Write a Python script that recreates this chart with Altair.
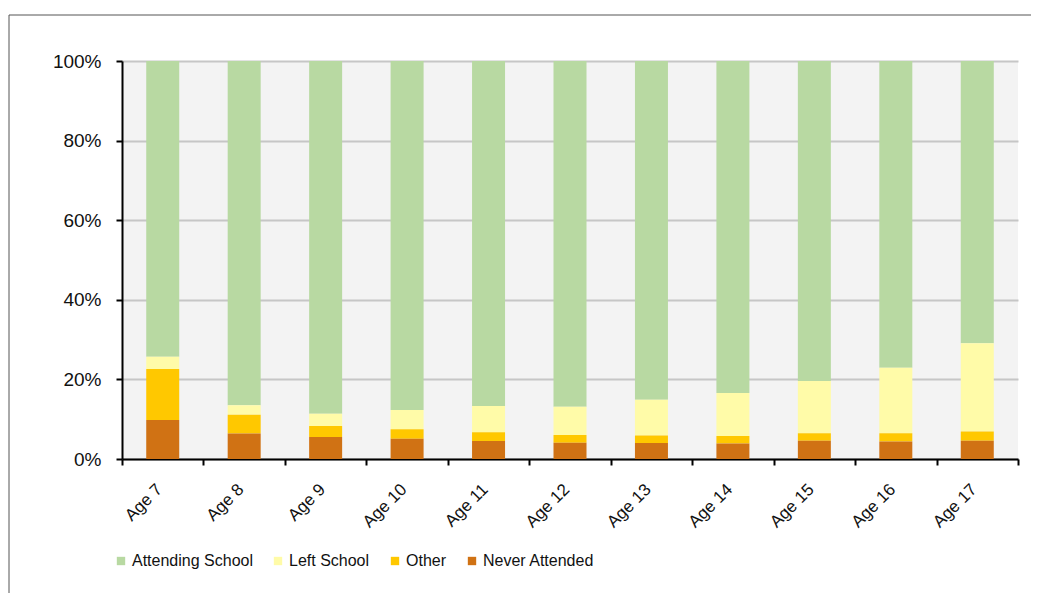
import altair as alt
import pandas as pd

ages = ["Age 7", "Age 8", "Age 9", "Age 10", "Age 11", "Age 12",
        "Age 13", "Age 14", "Age 15", "Age 16", "Age 17"]
never_attended = [9.8, 6.4, 5.5, 5.1, 4.5, 4.1, 4.0, 3.9, 4.6, 4.4, 4.6]
other = [12.8, 4.7, 2.8, 2.4, 2.2, 1.9, 1.9, 1.9, 1.9, 2.1, 2.3]
left_school = [3.1, 2.4, 3.1, 4.8, 6.6, 7.1, 9.0, 10.8, 13.1, 16.4, 22.2]
attending = [74.3, 86.5, 88.6, 87.7, 86.7, 86.9, 85.1, 83.4, 80.4, 77.1, 70.9]

series = ["Attending School", "Left School", "Other", "Never Attended"]
colors = ["#B8D9A2", "#FFFBA8", "#FFC800", "#D07214"]
stack_rank = {"Never Attended": 0, "Other": 1, "Left School": 2, "Attending School": 3}

rows = []
for name, vals in zip(series, [attending, left_school, other, never_attended]):
    for a, v in zip(ages, vals):
        rows.append({"age": a, "status": name, "value": v, "rank": stack_rank[name]})
df = pd.DataFrame(rows)

FONT = "Liberation Sans"

bars = alt.Chart(df).mark_bar(size=33).encode(
    x=alt.X("age:N", sort=ages, title=None,
            scale=alt.Scale(paddingInner=0, paddingOuter=0),
            axis=alt.Axis(labelAngle=-45, tickBand="extent", labelFont=FONT,
                          labelFontSize=17, labelColor="#111", labelPadding=25,
                          labelAlign="right", labelBaseline="alphabetic",
                          tickSize=6, tickColor="#000", tickWidth=2,
                          domainColor="#000", domainWidth=2, grid=False)),
    y=alt.Y("value:Q", stack="normalize", title=None,
            scale=alt.Scale(domain=[0, 1]),
            axis=alt.Axis(format=".0%", values=[0, 0.2, 0.4, 0.6, 0.8, 1.0],
                          labelFont=FONT, labelFontSize=19, labelColor="#111",
                          labelPadding=15, tickSize=6, tickColor="#000", tickWidth=2,
                          domainColor="#000", domainWidth=2,
                          grid=True, gridColor="#C6C6C6", gridWidth=2)),
    color=alt.Color("status:N", sort=series,
                    scale=alt.Scale(domain=series, range=colors),
                    legend=alt.Legend(title=None, orient="none", direction="horizontal",
                                      columns=4, legendX=-9, legendY=492,
                                      symbolType="square", symbolSize=70,
                                      symbolStrokeWidth=0, labelFont=FONT,
                                      labelFontSize=16, labelColor="#111",
                                      labelOffset=3, columnPadding=17)),
    order=alt.Order("rank:Q", sort="ascending"),
)

frame = alt.Chart(pd.DataFrame({"k": [0]})).mark_rect(
    fill="white", fillOpacity=0, stroke="#555555", strokeWidth=1
).encode(
    x=alt.value(-113), x2=alt.value(1200), y=alt.value(-46), y2=alt.value(800)
)

chart = alt.layer(frame, bars).properties(
    width=896, height=398,
    background="white",
    autosize=alt.AutoSizeParams(type="none"),
    padding={"left": 114, "top": 53, "right": 13, "bottom": 134},
).configure_view(fill="#F3F3F3", strokeWidth=0)

chart.save("out.html", embed_options={"renderer": "svg", "actions": False})
